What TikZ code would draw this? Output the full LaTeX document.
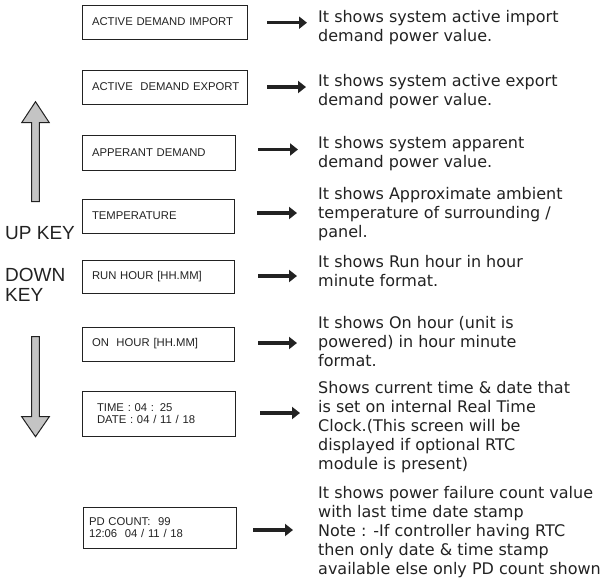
\documentclass[tikz,border=0pt]{standalone}
\usepackage{fontspec}
\usetikzlibrary{arrows.meta}
\newfontfamily\descfont{DejaVu Sans}
\newfontfamily\boxfont{Liberation Sans}
\definecolor{ink}{HTML}{222222}
\definecolor{keyfill}{HTML}{C4C4C4}
\tikzset{
  scrbox/.style={draw=ink, line width=1, rectangle, align=left, inner ysep=0,
    font=\boxfont\fontsize{11.3}{12}\selectfont, text=ink},
  desc/.style={anchor=base west, align=left, inner sep=0, text=ink,
    font=\descfont\fontsize{16}{19}\selectfont},
  arr/.style={line width=3.4, draw=ink, -{Triangle[length=8,width=12]}},
  keyarrow/.style={draw=ink, line width=1, fill=keyfill, line join=miter},
  keylabel/.style={anchor=base west, align=left, inner sep=0, text=ink,
    font=\boxfont\fontsize{19}{20}\selectfont},
}
\begin{document}
\begin{tikzpicture}[x=1pt,y=-1pt]
\useasboundingbox (0,0) rectangle (603,579);
% screen boxes
\node[scrbox, minimum width=165, minimum height=34, text width=145, inner xsep=10] (b1) at (164.5,22) {\mbox{ACTIVE DEMAND IMPORT}};
\node[scrbox, minimum width=165, minimum height=34, text width=145, inner xsep=10] (b2) at (164.5,87) {\mbox{ACTIVE\ \ DEMAND EXPORT}};
\node[scrbox, minimum width=153, minimum height=35, text width=133, inner xsep=10] (b3) at (158.5,152.5) {APPERANT DEMAND};
\node[scrbox, minimum width=152, minimum height=34, text width=132, inner xsep=10] (b4) at (158,216) {TEMPERATURE};
\node[scrbox, minimum width=152, minimum height=33, text width=132, inner xsep=10] (b5) at (158,276.5) {RUN HOUR [HH.MM]};
\node[scrbox, minimum width=152, minimum height=34, text width=132, inner xsep=10] (b6) at (158,344) {ON\ \ HOUR [HH.MM]};
\node[scrbox, minimum width=153, minimum height=45, text width=123, inner xsep=15] (b7) at (158.5,413.5) {TIME : 04 : 25\\DATE : 04 / 11 / 18};
\node[scrbox, minimum width=153, minimum height=41, text width=141, inner xsep=6] (b8) at (159.5,527.5) {PD COUNT:\ \ 99\\12:06\ \ 04 / 11 / 18};
% descriptions (anchored at the baseline of the last line)
\node[desc] (t1) at (318,41.2) {It shows system active import\\demand power value.};
\node[desc] (t2) at (318,105.5) {It shows system active export\\demand power value.};
\node[desc] (t3) at (318,167) {It shows system apparent\\demand power value.};
\node[desc] (t4) at (318,237) {It shows Approximate ambient\\temperature of surrounding /\\panel.};
\node[desc] (t5) at (318,286.5) {It shows Run hour in hour\\minute format.};
\node[desc] (t6) at (318,366) {It shows On hour (unit is\\powered) in hour minute\\format.};
\node[desc] (t7) at (318,469) {Shows current time \& date that\\is set on internal Real Time\\Clock.(This screen will be\\displayed if optional RTC\\module is present)};
\node[desc] (t8) at (318,574) {It shows power failure count value\\with last time date stamp\\Note : -If controller having RTC\\then only date \& time stamp\\available else only PD count shown};
% arrow end points
\coordinate (s1) at (267,22.7);  \coordinate (e1) at (307,22.7);
\coordinate (s2) at (267,87);    \coordinate (e2) at (306,87);
\coordinate (s3) at (258,149.5); \coordinate (e3) at (298,149.5);
\coordinate (s4) at (257,213);   \coordinate (e4) at (297,213);
\coordinate (s5) at (258,276);   \coordinate (e5) at (297,276);
\coordinate (s6) at (258,343);   \coordinate (e6) at (297,343);
\coordinate (s7) at (260,413);   \coordinate (e7) at (300,413);
\coordinate (s8) at (253,530);   \coordinate (e8) at (293,530);
\foreach \i in {1,...,8} { \draw[arr] (s\i) -- (e\i); }
% up / down keys
\draw[keyarrow] (31.7,201.7) -- (31.7,122.7) -- (21.7,122.7) -- (35.5,101.7) -- (49.3,122.7) -- (39.3,122.7) -- (39.3,201.7) -- cycle;
\draw[keyarrow] (31.7,336.7) -- (31.7,416.7) -- (21.7,416.7) -- (35.5,436.7) -- (49.3,416.7) -- (39.3,416.7) -- (39.3,336.7) -- cycle;
\node[keylabel] (up) at (5,239.3) {UP KEY};
\node[keylabel] (down) at (5,301.7) {DOWN\\KEY};
\end{tikzpicture}
\end{document}
